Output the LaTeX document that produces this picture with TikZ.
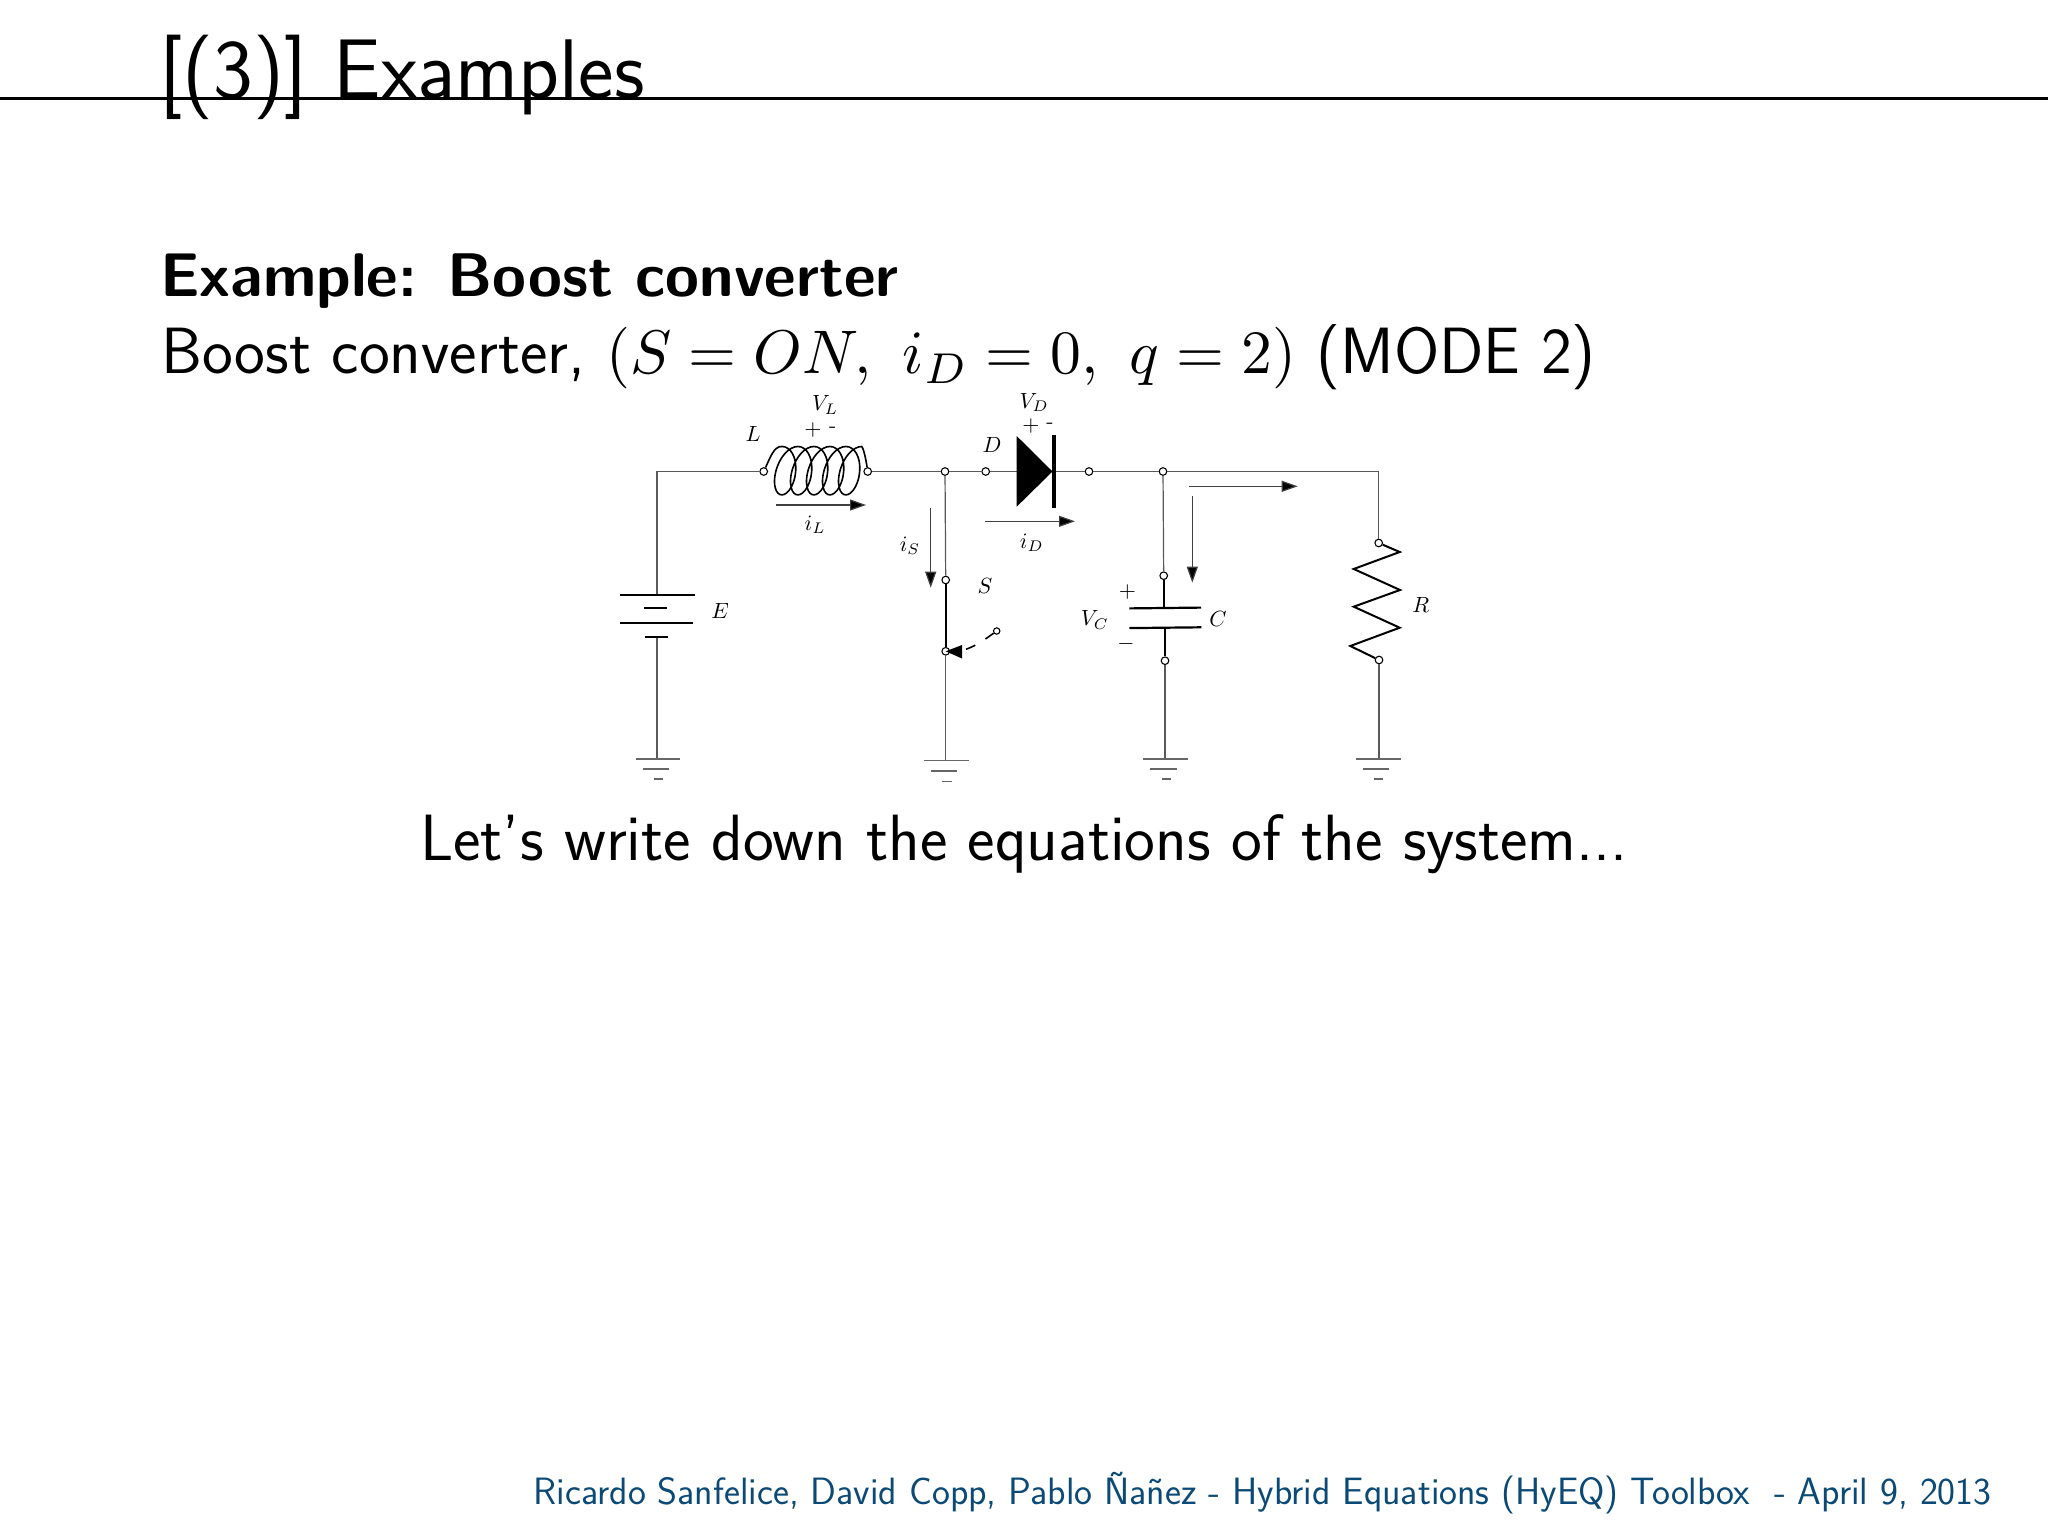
\RequirePackage{fix-cm}
\documentclass[tikz,border=0pt]{standalone}
\usepackage{fontspec}
\usepackage{graphicx}
\usetikzlibrary{arrows.meta}
\definecolor{footblue}{HTML}{0B4A76}
\newcommand{\bigmath}[1]{\scalebox{3.08}{\fontsize{10}{12}\selectfont$#1$}}
\tikzset{
  wire/.style={line width=0.6pt,draw=black!65},
  comp/.style={line width=1pt,draw=black,line join=miter},
  plate/.style={line width=1.1pt,draw=black},
  gnd/.style={line width=0.6pt,draw=black!60},
  term/.style={circle,draw=black,fill=white,line width=0.55pt,minimum size=3.8pt,inner sep=0pt},
  cur/.style={line width=0.6pt,draw=black!75,-{Triangle[length=8pt,width=5.5pt,fill=black]}},
  lab/.style={inner sep=0pt,font=\fontsize{11}{13}\selectfont},
  txt/.style={inner sep=0pt,anchor=base west,font=\fontsize{32.7}{38}\selectfont\sffamily},
}
\begin{document}
\begin{tikzpicture}[x=0.5pt,y=-0.5pt]
\useasboundingbox (0,0) rectangle (2048,1534);
\fill[white] (0,0) rectangle (2048,1534);

% header
\coordinate (ruleL) at (0,98.5);
\coordinate (ruleR) at (2048,98.5);
\draw[line width=1.5pt,black] (ruleL) -- (ruleR);
\node[inner sep=0pt,anchor=base west,font=\fontsize{42.3}{48}\selectfont\sffamily] (title) at (159,99) {[(3)] Examples};
\node[txt,font=\fontsize{30.8}{36}\selectfont\sffamily\bfseries] (head) at (160,296.5) {Example: Boost converter};
\node[txt] (line) at (161,374) {Boost converter, \bigmath{(S=ON,\ i_D=0,\ q=2)} (MODE 2)};
\node[txt,anchor=base] (low) at (1024,860.5) {Let's write down the equations of the system...};
\node[inner sep=0pt,anchor=base east,text=footblue,font=\fontsize{19.04}{23}\selectfont\sffamily] (foot) at (1992,1504) {Ricardo Sanfelice, David Copp, Pablo Ñañez - Hybrid Equations (HyEQ) Toolbox\ \ - April 9, 2013};

% terminals
\node[term] (tL1) at (763.7,471.5) {};
\node[term] (tL2) at (867.7,471.5) {};
\node[term] (jS)  at (945,471.5) {};
\node[term] (tD1) at (985.7,471.5) {};
\node[term] (tD2) at (1089,471.5) {};
\node[term] (jC)  at (1163,471.5) {};
\node[term] (tR1) at (1378.7,543) {};
\node[term] (tR2) at (1379,660) {};
\node[term] (tC1) at (1163.7,575.7) {};
\node[term] (tC2) at (1165,660.7) {};
\node[term] (tS1) at (945.7,580) {};
\node[term] (tS2) at (945.7,651.3) {};
\node[term,minimum size=3.2pt] (tS3) at (996.7,631) {};

% helper points
\coordinate (corner) at (657,471.5);
\coordinate (cornerR) at (1378.7,471.5);
\coordinate (batTop) at (657,595);
\coordinate (batBot) at (657,636.7);
\coordinate (gE) at (657,759);
\coordinate (gS) at (945.7,760.3);
\coordinate (gC) at (1165,759);
\coordinate (gR) at (1379,759);
\coordinate (dBase) at (1017,471.5);
\coordinate (dBar) at (1054,471.5);
\coordinate (cP1) at (1163.7,608);
\coordinate (cP2) at (1165,627.7);

% wires
\draw[wire] (tL1) -- (corner) -- (batTop);
\draw[wire] (batBot) -- (gE);
\draw[wire] (tL2) -- (jS);
\draw[wire] (jS) -- (tD1);
\draw[wire] (tD1) -- (dBase);
\draw[wire] (dBar) -- (tD2);
\draw[wire] (tD2) -- (jC);
\draw[wire] (jC) -- (cornerR) -- (tR1);
\draw[wire] (jC) -- (tC1);
\draw[wire] (jS) -- (tS1);
\draw[wire] (tS2) -- (gS);
\draw[wire] (tC2) -- (gC);
\draw[wire] (tR2) -- (gR);

% battery
\draw[plate] (620,595) -- (695,595);
\draw[plate] (644.3,608.3) -- (667.3,608.3);
\draw[plate] (620,623) -- (693.3,623);
\draw[plate] (644.7,636.7) -- (667.7,636.7);

% grounds
\draw[gnd] (635.7,759) -- (680.3,759) (642.7,769) -- (669,769) (654,779) -- (663,779);
\draw[gnd] (923.7,760.3) -- (968.7,760.3) (930.7,771) -- (957,771) (942.3,781.3) -- (951.7,781.3);
\draw[gnd] (1143.3,759) -- (1188.3,759) (1150,769) -- (1176.7,769) (1161.7,779) -- (1171,779);
\draw[gnd] (1356,759) -- (1400.7,759) (1363,769) -- (1389,769) (1374,779) -- (1383,779);

% inductor
\draw[comp,line width=0.8pt] (tL1) .. controls (770,458) and (774,446) .. (781.85,446.5);
\draw[comp,line width=0.8pt] plot[smooth,domain=0:1800,samples=161] ({777.85+\x/360*16+13.85*sin(\x)+4*cos(\x)},{470.7-24.2*cos(\x)});
\draw[comp,line width=0.8pt] (861.85,446.5) .. controls (864,450) and (866,460) .. (tL2);

% diode
\fill[black] (1016.7,436) -- (1052.5,471.5) -- (1016.7,506.7) -- cycle;
\draw[line width=2pt,black] (1054,435) -- (1054,507.7);

% switch
\draw[comp] (tS1) -- (tS2);
\draw[line width=0.8pt,dash pattern=on 5pt off 6pt,black] (tS3) .. controls (984,640) and (974,648) .. (958,651.6);
\fill[black] (945.7,651.3) -- (962,645) -- (962,658.5) -- cycle;

% capacitor
\draw[comp] (tC1) -- (cP1);
\draw[comp] (cP2) -- (tC2);
\draw[plate] (1129.3,608.4) -- (1201,607.6);
\draw[plate] (1129.3,628.1) -- (1201.3,627.3);

% resistor
\draw[comp] (tR1) -- (1399.7,552) -- (1353.7,569) -- (1400,590) -- (1353.7,606.7) -- (1399.7,627.7) -- (1350.3,646) -- (tR2);

% current arrows
\coordinate (aL1) at (776,505);     \coordinate (aL2) at (866,505);
\coordinate (aS1) at (930.7,507.7); \coordinate (aS2) at (930.7,587.7);
\coordinate (aD1) at (985,521.3);   \coordinate (aD2) at (1075,521.3);
\coordinate (aR1) at (1189,486.3);  \coordinate (aR2) at (1297.7,486.3);
\coordinate (aC1) at (1192.3,496);  \coordinate (aC2) at (1192.3,582.7);
\draw[cur] (aL1) -- (aL2);
\draw[cur] (aS1) -- (aS2);
\draw[cur] (aD1) -- (aD2);
\draw[cur] (aR1) -- (aR2);
\draw[cur] (aC1) -- (aC2);

% labels
\node[lab] (lE) at (720,610.7) {$E$};
\node[lab] (lL) at (753,433.7) {$L$};
\node[lab] (lVL) at (825,405) {$V_L$};
\node[lab] (lLp) at (813,430) {$+$};
\node[lab] (lLm) at (832.7,430) {-};
\node[lab] (lD) at (992,445) {$D$};
\node[lab] (lVD) at (1034,402.7) {$V_D$};
\node[lab] (lDp) at (1031,425.7) {$+$};
\node[lab] (lDm) at (1050,425.7) {-};
\node[lab] (liL) at (815,525) {$i_L$};
\node[lab] (liS) at (910,545.7) {$i_S$};
\node[lab] (liD) at (1031.7,542.7) {$i_D$};
\node[lab] (lS) at (985,585.7) {$S$};
\node[lab] (lVC) at (1094.7,620) {$V_C$};
\node[lab] (lCp) at (1127.3,592.3) {$+$};
\node[lab] (lCm) at (1126,644.3) {$-$};
\node[lab] (lC) at (1218,618.7) {$C$};
\node[lab] (lR) at (1420.7,604.7) {$R$};
\end{tikzpicture}
\end{document}
